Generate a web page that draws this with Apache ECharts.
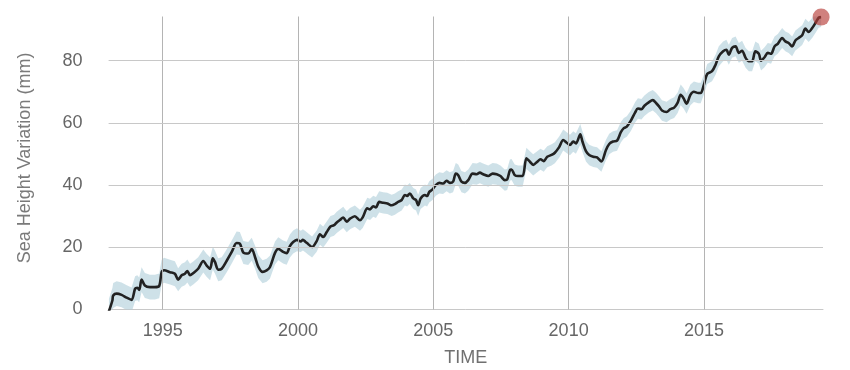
<!DOCTYPE html>
<html>
<head>
<meta charset="utf-8">
<script src="https://cdn.jsdelivr.net/npm/echarts@6/dist/echarts.min.js"></script>
<style>
  html, body { margin: 0; padding: 0; background: #fff; }
  #chart { width: 850px; height: 370px; }
</style>
</head>
<body>
<div id="chart"></div>
<script>
// ---- data ----
const years = [1993.01,1993.14,1993.17,1993.30,1993.48,1993.67,1993.85,1993.98,1994.06,1994.13,1994.22,1994.34,1994.53,1994.71,1994.87,1994.96,1995.05,1995.27,1995.45,1995.57,1995.70,1995.82,1995.91,1996.01,1996.13,1996.31,1996.50,1996.62,1996.75,1996.85,1996.93,1997.05,1997.18,1997.36,1997.55,1997.73,1997.85,1997.98,1998.16,1998.29,1998.41,1998.53,1998.69,1998.84,1998.96,1999.15,1999.27,1999.45,1999.58,1999.70,1999.82,1999.96,2000.10,2000.18,2000.27,2000.38,2000.52,2000.69,2000.81,2000.93,2001.06,2001.20,2001.33,2001.43,2001.55,2001.67,2001.80,2001.92,2002.10,2002.29,2002.39,2002.56,2002.66,2002.78,2002.88,2003.00,2003.15,2003.30,2003.46,2003.58,2003.70,2003.83,2003.95,2004.03,2004.13,2004.26,2004.36,2004.44,2004.53,2004.69,2004.77,2004.85,2004.97,2005.09,2005.22,2005.36,2005.49,2005.61,2005.73,2005.83,2005.92,2006.04,2006.17,2006.29,2006.45,2006.60,2006.72,2006.84,2007.03,2007.19,2007.34,2007.48,2007.64,2007.73,2007.83,2007.89,2008.01,2008.13,2008.30,2008.44,2008.57,2008.69,2008.84,2008.96,2009.08,2009.21,2009.37,2009.49,2009.65,2009.80,2009.92,2010.05,2010.17,2010.27,2010.43,2010.51,2010.64,2010.76,2010.91,2011.05,2011.21,2011.38,2011.50,2011.64,2011.79,2011.93,2012.04,2012.15,2012.30,2012.46,2012.56,2012.69,2012.80,2012.96,2013.11,2013.23,2013.34,2013.45,2013.62,2013.76,2013.90,2014.03,2014.14,2014.24,2014.36,2014.50,2014.63,2014.79,2014.88,2015.00,2015.12,2015.30,2015.43,2015.55,2015.71,2015.83,2015.92,2016.04,2016.17,2016.29,2016.41,2016.54,2016.66,2016.78,2016.90,2017.03,2017.11,2017.24,2017.36,2017.48,2017.61,2017.73,2017.89,2018.01,2018.13,2018.26,2018.38,2018.50,2018.63,2018.75,2018.87,2019.00,2019.12,2019.24,2019.33];

const seaHeight = [-0.6,2.9,4.5,5.1,4.7,3.8,3.1,6.7,7.0,6.3,9.6,7.7,7.2,7.2,7.6,12.0,12.6,12.0,11.5,9.6,11.0,11.5,12.4,11.0,11.7,13.1,15.6,14.2,13.1,16.5,15.3,12.8,13.1,15.6,18.5,21.4,21.2,18.3,18.0,19.4,16.9,13.8,12.1,12.6,13.6,18.2,19.5,18.5,18.1,20.4,21.7,22.4,21.9,22.4,21.8,21.0,20.1,22.0,24.2,23.3,24.9,26.7,27.1,28.0,28.8,29.6,28.2,29.2,30.0,28.7,29.6,32.5,32.2,33.2,32.8,34.6,34.3,34.1,33.5,33.9,34.6,35.2,36.8,36.5,37.3,35.7,35.2,33.5,35.7,36.8,36.5,37.8,38.6,40.0,40.7,40.5,41.4,40.7,41.1,43.7,43.2,41.1,40.7,41.6,43.7,43.5,44.0,43.5,42.9,43.7,43.5,42.9,41.6,41.8,44.8,45.0,43.2,42.9,42.9,48.6,47.5,46.5,47.5,48.3,47.7,49.1,49.7,50.4,52.2,54.5,53.7,52.9,54.0,53.4,56.3,54.0,50.9,49.7,49.1,48.9,47.6,51.3,53.2,54.0,54.3,57.0,58.3,58.8,60.7,63.4,64.6,64.4,65.5,66.6,67.3,66.4,65.3,64.0,63.5,64.4,64.9,66.5,69.0,68.0,66.2,69.0,70.0,69.6,69.6,72.3,75.7,76.6,78.7,81.4,83.0,83.5,81.9,84.1,84.6,82.5,83.2,80.9,79.8,79.8,83.0,82.2,80.0,81.1,82.5,82.2,84.6,85.4,87.3,86.2,85.7,84.6,86.5,87.3,88.2,90.3,89.2,90.5,92.1,93.8,94.0];

// half-width of the uncertainty band, by period (start year, mm)
const bandStart = [1993, 1995.5, 2000, 2005, 2010, 2015];
const bandHalf  = [4.0, 3.7, 3.4, 3.4, 3.3, 3.2];

const xTicks = [1995, 2000, 2005, 2010, 2015];
const yTicks = [0, 20, 40, 60, 80];

// ---- build series data ----
function halfAt(t) {
  let h = bandHalf[0];
  for (let i = 0; i < bandStart.length; i++) if (t >= bandStart[i]) h = bandHalf[i];
  return h;
}
const lineData = years.map((t, i) => [t, seaHeight[i]]);
const bandData = years.map((t, i) => [t, seaHeight[i] - halfAt(t), seaHeight[i] + halfAt(t)]);
const last = lineData[lineData.length - 1];

const FONT = 'Liberation Sans, Arial, Helvetica, sans-serif';
const chart = echarts.init(document.getElementById('chart'), null, { renderer: 'canvas' });

chart.setOption({
  animation: false,
  backgroundColor: '#ffffff',
  grid: { left: 108.6, right: 27, top: 16.5, bottom: 60.5, containLabel: false, outerBoundsMode: 'none' },
  xAxis: {
    type: 'value',
    min: 1993,
    max: 2019.4,
    name: 'TIME',
    nameLocation: 'middle',
    nameGap: 40,
    nameTextStyle: { color: '#707070', fontSize: 18, fontFamily: FONT },
    axisLine: { show: true, lineStyle: { color: '#c8c8c8', width: 1 } },
    axisTick: { show: false },
    splitLine: { show: false },
    axisLabel: {
      customValues: xTicks,
      color: '#666666', fontSize: 18, fontFamily: FONT, margin: 13,
      formatter: v => String(Math.round(v))
    }
  },
  yAxis: {
    type: 'value',
    min: 0,
    max: 94.2,
    name: 'Sea Height Variation (mm)',
    nameLocation: 'middle',
    nameGap: 75,
    nameTextStyle: { color: '#7a7a7a', fontSize: 18, fontFamily: FONT, padding: [0, 0, 0, 10] },
    axisLine: { show: false },
    axisTick: { show: false },
    splitLine: { show: false },
    axisLabel: {
      customValues: yTicks,
      color: '#666666', fontSize: 18, fontFamily: FONT, margin: 26
    }
  },
  series: [
    {
      name: 'grid',
      type: 'line',
      data: [],
      silent: true,
      z: 1,
      markLine: {
        silent: true,
        symbol: ['none', 'none'],
        label: { show: false },
        animation: false,
        data: [
          ...xTicks.map(v => ({ xAxis: v, lineStyle: { color: '#b4b4b4', width: 1, type: 'solid' } })),
          ...yTicks.filter(v => v > 0).map(v => ({ yAxis: v, lineStyle: { color: '#c8c8c8', width: 1, type: 'solid' } }))
        ]
      }
    },
    {
      name: 'band',
      type: 'custom',
      data: bandData,
      encode: { x: 0, y: [1, 2] },
      silent: true,
      z: 2,
      renderItem: function (params, api) {
        if (params.dataIndex !== 0) return null;
        const upper = bandData.map(d => api.coord([d[0], d[2]]));
        const lower = bandData.map(d => api.coord([d[0], d[1]])).reverse();
        const cs = params.coordSys;
        return {
          type: 'polygon',
          shape: { points: upper.concat(lower) },
          style: { fill: 'rgba(176, 206, 218, 0.62)' },
          clipPath: { type: 'rect', shape: { x: cs.x, y: cs.y, width: cs.width, height: cs.height } }
        };
      }
    },
    {
      name: 'sea',
      type: 'line',
      data: lineData,
      smooth: 0.3,
      showSymbol: false,
      lineStyle: { color: '#222222', width: 2.6 },
      z: 3
    },
    {
      name: 'latest',
      type: 'scatter',
      data: [last],
      symbolSize: 17,
      itemStyle: { color: 'rgba(183, 62, 58, 0.82)' },
      z: 4
    }
  ]
});
</script>
</body>
</html>
